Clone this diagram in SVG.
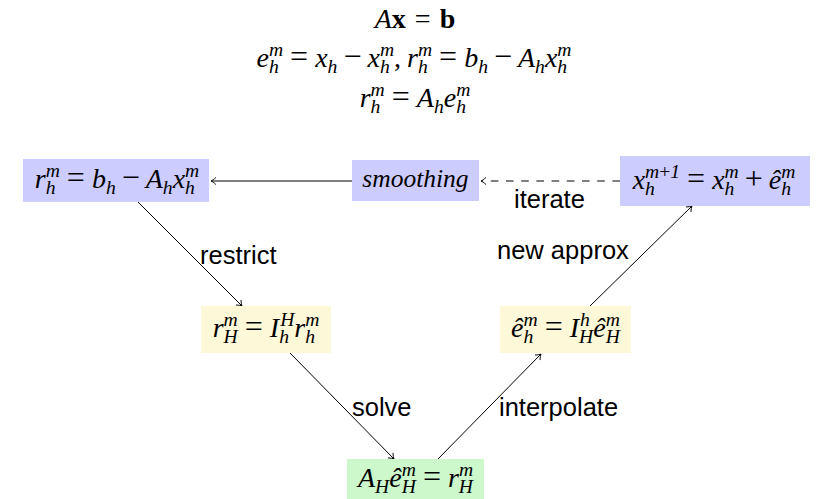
<svg xmlns="http://www.w3.org/2000/svg" width="818" height="499" viewBox="0 0 818 499">
<style>
.m{font-family:"Liberation Serif","Times New Roman",serif;font-style:italic;font-size:28px;fill:#000}
.it{font-size:25.5px}
.u{font-style:normal}
.op{font-style:normal;font-size:32px}
.bf{font-style:normal;font-weight:bold}
.s{font-size:19.6px}
.lbl{font-family:"Liberation Sans",Arial,sans-serif;font-size:25.5px;fill:#000}
.blue{fill:#ccccff}
.yel{fill:#fdf8d8}
.grn{fill:#ccf8cc}
.edge{stroke:#000;stroke-width:1;fill:none;marker-end:url(#tip)}
.dash{stroke-dasharray:7.6 7.6}
</style>
<defs>
<marker id="tip" markerUnits="userSpaceOnUse" markerWidth="12" markerHeight="12" viewBox="-7 -6 8 12" refX="0" refY="0" orient="auto">
<path d="M-5,-3.6 C-3,-1.6 -1,-0.5 0,0 C-1,0.5 -3,1.6 -5,3.6" stroke="#000" stroke-width="0.9" fill="none"/>
</marker>
</defs>

<g id="equations">
<text class="m" x="415" y="28" text-anchor="middle">A<tspan class="bf">x</tspan><tspan class="u" dx="9">=</tspan><tspan class="bf" dx="9">b</tspan></text>
<text class="m" x="414" y="67" text-anchor="middle">e<tspan class="s" dy="6">h</tspan><tspan class="s" dx="-9.8" dy="-17">m</tspan><tspan class="op" dx="7" dy="11">=</tspan><tspan dx="7">x</tspan><tspan class="s" dy="6">h</tspan><tspan class="op" dx="6" dy="-6">−</tspan><tspan dx="6">x</tspan><tspan class="s" dy="6">h</tspan><tspan class="s" dx="-9.8" dy="-17">m</tspan><tspan class="u" dy="11">,</tspan><tspan dx="6">r</tspan><tspan class="s" dy="6">h</tspan><tspan class="s" dx="-9.8" dy="-17">m</tspan><tspan class="op" dx="7" dy="11">=</tspan><tspan dx="7">b</tspan><tspan class="s" dy="6">h</tspan><tspan class="op" dx="6" dy="-6">−</tspan><tspan dx="6">A</tspan><tspan class="s" dy="6">h</tspan><tspan dy="-6">x</tspan><tspan class="s" dy="6">h</tspan><tspan class="s" dx="-9.8" dy="-17">m</tspan></text>
<text class="m" x="415" y="107" text-anchor="middle">r<tspan class="s" dy="6">h</tspan><tspan class="s" dx="-9.8" dy="-17">m</tspan><tspan class="op" dx="7" dy="11">=</tspan><tspan dx="7">A</tspan><tspan class="s" dy="6">h</tspan><tspan dy="-6">e</tspan><tspan class="s" dy="6">h</tspan><tspan class="s" dx="-9.8" dy="-17">m</tspan></text>
</g>

<g id="connectors">
<line class="edge" x1="352" y1="181" x2="211" y2="181"/>
<line class="edge dash" x1="620" y1="181" x2="481" y2="181"/>
<line class="edge" x1="138" y1="202" x2="242" y2="306"/>
<line class="edge" x1="290" y1="353" x2="394" y2="459"/>
<line class="edge" x1="438" y1="459" x2="541" y2="354"/>
<line class="edge" x1="590" y1="306" x2="692" y2="206"/>
<text class="lbl" x="514" y="208">iterate</text>
<text class="lbl" x="200" y="264">restrict</text>
<text class="lbl" x="497" y="259">new approx</text>
<text class="lbl" x="352" y="416">solve</text>
<text class="lbl" x="499" y="416">interpolate</text>
</g>

<g id="residual">
<rect class="blue" x="23" y="159" width="186" height="43"/>
<text class="m" x="117" y="188" text-anchor="middle">r<tspan class="s" dy="6">h</tspan><tspan class="s" dx="-9.8" dy="-17">m</tspan><tspan class="op" dx="7" dy="11">=</tspan><tspan dx="7">b</tspan><tspan class="s" dy="6">h</tspan><tspan class="op" dx="6" dy="-6">−</tspan><tspan dx="6">A</tspan><tspan class="s" dy="6">h</tspan><tspan dy="-6">x</tspan><tspan class="s" dy="6">h</tspan><tspan class="s" dx="-9.8" dy="-17">m</tspan></text>
</g>

<g id="smoothing">
<rect class="blue" x="352" y="160" width="127" height="41"/>
<text class="m it" x="415.5" y="187" text-anchor="middle">smoothing</text>
</g>

<g id="update">
<rect class="blue" x="620" y="156" width="190" height="50"/>
<text class="m" x="714" y="189" text-anchor="middle">x<tspan class="s" dy="6">h</tspan><tspan class="s" dx="-9.8" dy="-17">m<tspan class="u">+</tspan>1</tspan><tspan class="op" dx="7" dy="11">=</tspan><tspan dx="7">x</tspan><tspan class="s" dy="6">h</tspan><tspan class="s" dx="-9.8" dy="-17">m</tspan><tspan class="op" dx="6" dy="11">+</tspan><tspan dx="6">ê</tspan><tspan class="s" dy="6">h</tspan><tspan class="s" dx="-9.8" dy="-17">m</tspan></text>
</g>

<g id="restriction">
<rect class="yel" x="201" y="306" width="130" height="47"/>
<text class="m" x="266" y="337" text-anchor="middle">r<tspan class="s" dy="6">H</tspan><tspan class="s" dx="-14.1" dy="-17">m</tspan><tspan class="op" dx="7" dy="11">=</tspan><tspan dx="7">I</tspan><tspan class="s" dy="6">h</tspan><tspan class="s" dx="-8.8" dy="-17">H</tspan><tspan dy="11">r</tspan><tspan class="s" dy="6">h</tspan><tspan class="s" dx="-9.8" dy="-17">m</tspan></text>
</g>

<g id="interpolation">
<rect class="yel" x="500" y="306" width="131" height="47"/>
<text class="m" x="565.5" y="337" text-anchor="middle">ê<tspan class="s" dy="6">h</tspan><tspan class="s" dx="-9.8" dy="-17">m</tspan><tspan class="op" dx="7" dy="11">=</tspan><tspan dx="7">I</tspan><tspan class="s" dx="1" dy="-11">h</tspan><tspan class="s" dx="-10.8" dy="17">H</tspan><tspan dy="-6">ê</tspan><tspan class="s" dy="6">H</tspan><tspan class="s" dx="-14.1" dy="-17">m</tspan></text>
</g>

<g id="coarse">
<rect class="grn" x="347" y="459" width="137" height="40"/>
<text class="m" x="415.5" y="487" text-anchor="middle">A<tspan class="s" dy="6">H</tspan><tspan dy="-6">ê</tspan><tspan class="s" dy="6">H</tspan><tspan class="s" dx="-14.1" dy="-17">m</tspan><tspan class="op" dx="7" dy="11">=</tspan><tspan dx="7">r</tspan><tspan class="s" dy="6">H</tspan><tspan class="s" dx="-14.1" dy="-17">m</tspan></text>
</g>
</svg>
